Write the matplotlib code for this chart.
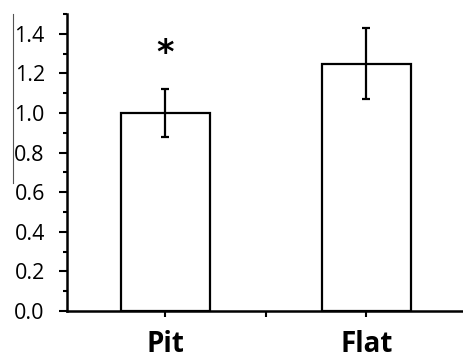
import matplotlib
matplotlib.use("Agg")
import matplotlib.pyplot as plt
from matplotlib.lines import Line2D
from matplotlib.ticker import MultipleLocator

categories = ["Pit", "Flat"]
values = [1.00, 1.25]
errors = [0.12, 0.18]
x_pos = [0, 2]
y_ticks = [0.0, 0.2, 0.4, 0.6, 0.8, 1.0, 1.2, 1.4]
y_tick_labels = ["0.0", "0.2", "0.4", "0.6", "0.8", "1.0", "1.2", "1.4"]
star_label = "*"

fig = plt.figure(figsize=(4.64, 3.61), dpi=100)
ax = fig.add_axes([67/464, 50/361, 400/464, 297/361])

ax.bar(x_pos, values, width=0.88, color="white", edgecolor="black", linewidth=1.6, zorder=2)
ax.errorbar(x_pos, values, yerr=errors, fmt="none", ecolor="black", elinewidth=1.6,
            capsize=3, capthick=1.6, zorder=3)
ax.text(x_pos[0], values[0] + 0.30, star_label, ha="center", va="center",
        fontsize=24, fontweight="bold", family="DejaVu Sans")

ax.set_xlim(-0.98, 3.0)
ax.set_ylim(0, 1.5)

ax.set_yticks(y_ticks)
ax.set_yticklabels(y_tick_labels, family="Open Sans", fontsize=15.5)
ax.yaxis.set_minor_locator(MultipleLocator(0.1))
ax.set_xticks([0, 1, 2, 3])
ax.set_xticklabels([categories[0], "", categories[1], ""], family="Open Sans",
                   fontsize=20, fontweight="bold")

ax.tick_params(axis="y", which="major", direction="out", length=6, width=1.5, pad=10, colors="black")
ax.tick_params(axis="y", which="minor", direction="out", length=3, width=1.5)
ax.tick_params(axis="x", which="major", direction="out", length=4, width=1.5, pad=10)

for s in ["top", "right"]:
    ax.spines[s].set_visible(False)
for s in ["left", "bottom"]:
    ax.spines[s].set_linewidth(1.8)
    ax.spines[s].set_color("black")

fig.add_artist(Line2D([13/464, 13/464], [1 - 14/361, 1 - 183/361], transform=fig.transFigure,
                      color="#555555", linewidth=0.8))

fig.savefig("out.png", dpi=100)
